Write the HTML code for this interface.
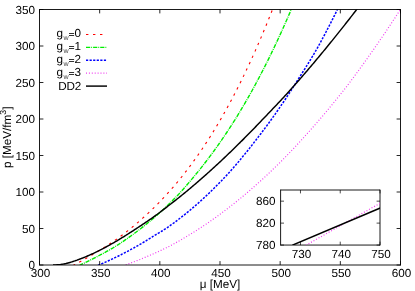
<!DOCTYPE html>
<html><head><meta charset="utf-8"><title>plot</title>
<style>
html,body{margin:0;padding:0;background:#fff;}
body{width:415px;height:291px;overflow:hidden;position:relative;}
svg{will-change:transform;}svg text{text-rendering:geometricPrecision;font-family:"Liberation Sans",sans-serif;font-size:11.7px;fill:#000;}
</style></head><body>
<svg width="415" height="291" viewBox="0 0 415 291" style="position:absolute;left:0;top:0">
<rect x="0" y="0" width="415" height="291" fill="#fff"/>
<defs><clipPath id="c"><rect x="39.5" y="9.5" width="361.0" height="255.5"/></clipPath><clipPath id="ci"><rect x="280.5" y="190" width="99.5" height="55"/></clipPath></defs>
<g clip-path="url(#c)" fill="none">
<path d="M73.00,265.58 L74.00,265.04 L75.00,264.50 L76.00,263.96 L77.00,263.41 L78.00,262.87 L79.00,262.32 L80.00,261.77 L81.00,261.22 L82.00,260.66 L83.00,260.10 L84.00,259.54 L85.00,258.97 L86.00,258.41 L87.00,257.84 L88.00,257.26 L89.00,256.68 L90.00,256.10 L91.00,255.52 L92.00,254.93 L93.00,254.34 L94.00,253.74 L95.00,253.14 L96.00,252.54 L97.00,251.94 L98.00,251.33 L99.00,250.71 L100.00,250.10 L101.00,249.48 L102.00,248.85 L103.00,248.23 L104.00,247.59 L105.00,246.96 L106.00,246.31 L107.00,245.67 L108.00,245.01 L109.00,244.36 L110.00,243.69 L111.00,243.02 L112.00,242.35 L113.00,241.66 L114.00,240.98 L115.00,240.28 L116.00,239.58 L117.00,238.87 L118.00,238.15 L119.00,237.43 L120.00,236.70 L121.00,235.96 L122.00,235.21 L123.00,234.46 L124.00,233.69 L125.00,232.93 L126.00,232.15 L127.00,231.37 L128.00,230.58 L129.00,229.78 L130.00,228.97 L131.00,228.16 L132.00,227.35 L133.00,226.52 L134.00,225.69 L135.00,224.85 L136.00,224.01 L137.00,223.16 L138.00,222.30 L139.00,221.43 L140.00,220.56 L141.00,219.69 L142.00,218.80 L143.00,217.91 L144.00,217.01 L145.00,216.10 L146.00,215.19 L147.00,214.26 L148.00,213.33 L149.00,212.39 L150.00,211.44 L151.00,210.49 L152.00,209.52 L153.00,208.55 L154.00,207.57 L155.00,206.58 L156.00,205.59 L157.00,204.58 L158.00,203.57 L159.00,202.55 L160.00,201.52 L161.00,200.49 L162.00,199.44 L163.00,198.38 L164.00,197.32 L165.00,196.25 L166.00,195.16 L167.00,194.07 L168.00,192.97 L169.00,191.85 L170.00,190.73 L171.00,189.60 L172.00,188.46 L173.00,187.31 L174.00,186.14 L175.00,184.97 L176.00,183.79 L177.00,182.60 L178.00,181.39 L179.00,180.18 L180.00,178.96 L181.00,177.72 L182.00,176.48 L183.00,175.22 L184.00,173.95 L185.00,172.67 L186.00,171.39 L187.00,170.09 L188.00,168.77 L189.00,167.45 L190.00,166.12 L191.00,164.77 L192.00,163.42 L193.00,162.05 L194.00,160.67 L195.00,159.28 L196.00,157.87 L197.00,156.46 L198.00,155.03 L199.00,153.59 L200.00,152.14 L201.00,150.68 L202.00,149.20 L203.00,147.71 L204.00,146.21 L205.00,144.70 L206.00,143.17 L207.00,141.63 L208.00,140.08 L209.00,138.52 L210.00,136.94 L211.00,135.35 L212.00,133.75 L213.00,132.13 L214.00,130.51 L215.00,128.86 L216.00,127.21 L217.00,125.54 L218.00,123.86 L219.00,122.16 L220.00,120.45 L221.00,118.73 L222.00,116.99 L223.00,115.24 L224.00,113.47 L225.00,111.69 L226.00,109.90 L227.00,108.09 L228.00,106.27 L229.00,104.44 L230.00,102.59 L231.00,100.72 L232.00,98.84 L233.00,96.95 L234.00,95.04 L235.00,93.11 L236.00,91.17 L237.00,89.22 L238.00,87.25 L239.00,85.27 L240.00,83.27 L241.00,81.25 L242.00,79.22 L243.00,77.18 L244.00,75.12 L245.00,73.04 L246.00,70.95 L247.00,68.84 L248.00,66.72 L249.00,64.58 L250.00,62.42 L251.00,60.25 L252.00,58.06 L253.00,55.86 L254.00,53.64 L255.00,51.40 L256.00,49.15 L257.00,46.88 L258.00,44.59 L259.00,42.29 L260.00,39.97 L261.00,37.63 L262.00,35.28 L263.00,32.91 L264.00,30.52 L265.00,28.12 L266.00,25.69 L267.00,23.25 L268.00,20.80 L269.00,18.32 L270.00,15.83 L271.00,13.32 L272.00,10.79 L273.00,8.25" stroke="#ff0000" stroke-width="1.1" stroke-dasharray="2.4 4.6"/>
<path d="M79.25,265.52 L80.25,265.01 L81.25,264.50 L82.25,264.03 L83.25,263.55 L84.25,263.07 L85.25,262.59 L86.25,262.11 L87.25,261.62 L88.25,261.13 L89.25,260.64 L90.25,260.14 L91.25,259.64 L92.25,259.13 L93.25,258.63 L94.25,258.12 L95.25,257.60 L96.25,257.08 L97.25,256.56 L98.25,256.03 L99.25,255.50 L100.25,254.97 L101.25,254.43 L102.25,253.90 L103.25,253.36 L104.25,252.82 L105.25,252.27 L106.25,251.73 L107.25,251.17 L108.25,250.62 L109.25,250.05 L110.25,249.48 L111.25,248.91 L112.25,248.32 L113.25,247.73 L114.25,247.13 L115.25,246.52 L116.25,245.90 L117.25,245.26 L118.25,244.62 L119.25,243.97 L120.25,243.31 L121.25,242.65 L122.25,241.98 L123.25,241.31 L124.25,240.63 L125.25,239.95 L126.25,239.26 L127.25,238.56 L128.25,237.86 L129.25,237.15 L130.25,236.44 L131.25,235.72 L132.25,234.99 L133.25,234.26 L134.25,233.52 L135.25,232.78 L136.25,232.03 L137.25,231.28 L138.25,230.52 L139.25,229.75 L140.25,228.98 L141.25,228.20 L142.25,227.42 L143.25,226.63 L144.25,225.83 L145.25,225.03 L146.25,224.22 L147.25,223.41 L148.25,222.58 L149.25,221.76 L150.25,220.93 L151.25,220.09 L152.25,219.24 L153.25,218.39 L154.25,217.53 L155.25,216.67 L156.25,215.80 L157.25,214.92 L158.25,214.04 L159.25,213.14 L160.25,212.24 L161.25,211.34 L162.25,210.42 L163.25,209.50 L164.25,208.57 L165.25,207.64 L166.25,206.69 L167.25,205.74 L168.25,204.78 L169.25,203.81 L170.25,202.84 L171.25,201.85 L172.25,200.86 L173.25,199.86 L174.25,198.85 L175.25,197.83 L176.25,196.80 L177.25,195.75 L178.25,194.69 L179.25,193.61 L180.25,192.52 L181.25,191.41 L182.25,190.30 L183.25,189.17 L184.25,188.03 L185.25,186.89 L186.25,185.73 L187.25,184.56 L188.25,183.39 L189.25,182.21 L190.25,181.03 L191.25,179.84 L192.25,178.64 L193.25,177.44 L194.25,176.24 L195.25,175.03 L196.25,173.82 L197.25,172.60 L198.25,171.37 L199.25,170.13 L200.25,168.88 L201.25,167.62 L202.25,166.35 L203.25,165.08 L204.25,163.80 L205.25,162.50 L206.25,161.21 L207.25,159.90 L208.25,158.58 L209.25,157.26 L210.25,155.93 L211.25,154.59 L212.25,153.24 L213.25,151.88 L214.25,150.51 L215.25,149.13 L216.25,147.74 L217.25,146.34 L218.25,144.93 L219.25,143.51 L220.25,142.07 L221.25,140.63 L222.25,139.18 L223.25,137.71 L224.25,136.23 L225.25,134.75 L226.25,133.25 L227.25,131.74 L228.25,130.22 L229.25,128.69 L230.25,127.14 L231.25,125.59 L232.25,124.02 L233.25,122.45 L234.25,120.86 L235.25,119.26 L236.25,117.65 L237.25,116.02 L238.25,114.39 L239.25,112.74 L240.25,111.08 L241.25,109.41 L242.25,107.73 L243.25,106.04 L244.25,104.33 L245.25,102.61 L246.25,100.88 L247.25,99.14 L248.25,97.38 L249.25,95.61 L250.25,93.83 L251.25,92.04 L252.25,90.24 L253.25,88.42 L254.25,86.59 L255.25,84.75 L256.25,82.89 L257.25,81.02 L258.25,79.14 L259.25,77.25 L260.25,75.34 L261.25,73.42 L262.25,71.49 L263.25,69.54 L264.25,67.58 L265.25,65.61 L266.25,63.62 L267.25,61.62 L268.25,59.61 L269.25,57.58 L270.25,55.54 L271.25,53.49 L272.25,51.42 L273.25,49.34 L274.25,47.24 L275.25,45.13 L276.25,43.01 L277.25,40.87 L278.25,38.72 L279.25,36.56 L280.25,34.38 L281.25,32.18 L282.25,29.98 L283.25,27.75 L284.25,25.52 L285.25,23.27 L286.25,21.00 L287.25,18.72 L288.25,16.43 L289.25,14.12 L290.25,11.79 L291.25,9.45 L292.25,7.10" stroke="#00ee00" stroke-width="1.4" stroke-dasharray="4.2 1 0.9 1"/>
<path d="M98.00,265.35 L99.00,264.93 L100.00,264.50 L101.00,264.07 L102.00,263.64 L103.00,263.20 L104.00,262.76 L105.00,262.31 L106.00,261.87 L107.00,261.42 L108.00,260.96 L109.00,260.50 L110.00,260.04 L111.00,259.57 L112.00,259.10 L113.00,258.63 L114.00,258.15 L115.00,257.67 L116.00,257.19 L117.00,256.70 L118.00,256.21 L119.00,255.71 L120.00,255.21 L121.00,254.71 L122.00,254.20 L123.00,253.69 L124.00,253.18 L125.00,252.66 L126.00,252.13 L127.00,251.61 L128.00,251.07 L129.00,250.54 L130.00,250.00 L131.00,249.45 L132.00,248.91 L133.00,248.35 L134.00,247.80 L135.00,247.23 L136.00,246.67 L137.00,246.10 L138.00,245.53 L139.00,244.95 L140.00,244.36 L141.00,243.78 L142.00,243.19 L143.00,242.59 L144.00,241.99 L145.00,241.38 L146.00,240.77 L147.00,240.16 L148.00,239.54 L149.00,238.92 L150.00,238.29 L151.00,237.66 L152.00,237.04 L153.00,236.43 L154.00,235.82 L155.00,235.22 L156.00,234.62 L157.00,234.02 L158.00,233.42 L159.00,232.82 L160.00,232.21 L161.00,231.60 L162.00,230.99 L163.00,230.36 L164.00,229.73 L165.00,229.09 L166.00,228.44 L167.00,227.78 L168.00,227.10 L169.00,226.41 L170.00,225.70 L171.00,224.98 L172.00,224.26 L173.00,223.52 L174.00,222.79 L175.00,222.04 L176.00,221.30 L177.00,220.54 L178.00,219.78 L179.00,219.02 L180.00,218.25 L181.00,217.47 L182.00,216.69 L183.00,215.90 L184.00,215.10 L185.00,214.30 L186.00,213.49 L187.00,212.68 L188.00,211.86 L189.00,211.04 L190.00,210.21 L191.00,209.37 L192.00,208.52 L193.00,207.67 L194.00,206.82 L195.00,205.96 L196.00,205.09 L197.00,204.21 L198.00,203.33 L199.00,202.44 L200.00,201.55 L201.00,200.65 L202.00,199.74 L203.00,198.83 L204.00,197.90 L205.00,196.98 L206.00,196.04 L207.00,195.10 L208.00,194.16 L209.00,193.20 L210.00,192.24 L211.00,191.28 L212.00,190.30 L213.00,189.32 L214.00,188.33 L215.00,187.34 L216.00,186.34 L217.00,185.33 L218.00,184.32 L219.00,183.30 L220.00,182.27 L221.00,181.23 L222.00,180.19 L223.00,179.14 L224.00,178.08 L225.00,177.02 L226.00,175.95 L227.00,174.87 L228.00,173.79 L229.00,172.70 L230.00,171.60 L231.00,170.49 L232.00,169.37 L233.00,168.23 L234.00,167.08 L235.00,165.92 L236.00,164.75 L237.00,163.57 L238.00,162.38 L239.00,161.18 L240.00,159.98 L241.00,158.77 L242.00,157.55 L243.00,156.33 L244.00,155.11 L245.00,153.89 L246.00,152.66 L247.00,151.42 L248.00,150.17 L249.00,148.91 L250.00,147.65 L251.00,146.38 L252.00,145.11 L253.00,143.83 L254.00,142.54 L255.00,141.25 L256.00,139.96 L257.00,138.66 L258.00,137.36 L259.00,136.06 L260.00,134.76 L261.00,133.45 L262.00,132.14 L263.00,130.81 L264.00,129.48 L265.00,128.14 L266.00,126.80 L267.00,125.44 L268.00,124.08 L269.00,122.71 L270.00,121.34 L271.00,119.95 L272.00,118.56 L273.00,117.16 L274.00,115.75 L275.00,114.33 L276.00,112.91 L277.00,111.48 L278.00,110.04 L279.00,108.59 L280.00,107.13 L281.00,105.67 L282.00,104.19 L283.00,102.71 L284.00,101.22 L285.00,99.73 L286.00,98.22 L287.00,96.71 L288.00,95.19 L289.00,93.66 L290.00,92.12 L291.00,90.57 L292.00,89.02 L293.00,87.45 L294.00,85.88 L295.00,84.30 L296.00,82.72 L297.00,81.14 L298.00,79.57 L299.00,78.00 L300.00,76.43 L301.00,74.86 L302.00,73.29 L303.00,71.71 L304.00,70.14 L305.00,68.55 L306.00,66.96 L307.00,65.36 L308.00,63.75 L309.00,62.14 L310.00,60.50 L311.00,58.86 L312.00,57.20 L313.00,55.53 L314.00,53.83 L315.00,52.12 L316.00,50.39 L317.00,48.64 L318.00,46.87 L319.00,45.07 L320.00,43.25 L321.00,41.42 L322.00,39.57 L323.00,37.70 L324.00,35.82 L325.00,33.92 L326.00,32.01 L327.00,30.09 L328.00,28.16 L329.00,26.22 L330.00,24.27 L331.00,22.32 L332.00,20.34 L333.00,18.36 L334.00,16.36 L335.00,14.35 L336.00,12.32 L337.00,10.28 L338.00,8.30" stroke="#0000ff" stroke-width="1.5" stroke-dasharray="2.2 1.37"/>
<path d="M123.00,265.79 L124.00,265.44 L125.00,265.09 L126.00,264.74 L127.00,264.39 L128.00,264.03 L129.00,263.67 L130.00,263.30 L131.00,262.93 L132.00,262.56 L133.00,262.19 L134.00,261.81 L135.00,261.43 L136.00,261.04 L137.00,260.65 L138.00,260.26 L139.00,259.86 L140.00,259.46 L141.00,259.06 L142.00,258.65 L143.00,258.24 L144.00,257.83 L145.00,257.41 L146.00,256.99 L147.00,256.56 L148.00,256.14 L149.00,255.71 L150.00,255.28 L151.00,254.85 L152.00,254.41 L153.00,253.98 L154.00,253.54 L155.00,253.09 L156.00,252.64 L157.00,252.19 L158.00,251.74 L159.00,251.28 L160.00,250.81 L161.00,250.35 L162.00,249.87 L163.00,249.40 L164.00,248.91 L165.00,248.43 L166.00,247.93 L167.00,247.43 L168.00,246.93 L169.00,246.42 L170.00,245.90 L171.00,245.38 L172.00,244.85 L173.00,244.32 L174.00,243.78 L175.00,243.23 L176.00,242.67 L177.00,242.11 L178.00,241.55 L179.00,240.98 L180.00,240.41 L181.00,239.84 L182.00,239.26 L183.00,238.68 L184.00,238.09 L185.00,237.50 L186.00,236.90 L187.00,236.30 L188.00,235.70 L189.00,235.09 L190.00,234.48 L191.00,233.87 L192.00,233.25 L193.00,232.62 L194.00,232.00 L195.00,231.37 L196.00,230.73 L197.00,230.09 L198.00,229.45 L199.00,228.80 L200.00,228.15 L201.00,227.49 L202.00,226.83 L203.00,226.17 L204.00,225.50 L205.00,224.83 L206.00,224.15 L207.00,223.47 L208.00,222.78 L209.00,222.09 L210.00,221.40 L211.00,220.70 L212.00,220.00 L213.00,219.30 L214.00,218.59 L215.00,217.87 L216.00,217.16 L217.00,216.43 L218.00,215.71 L219.00,214.98 L220.00,214.24 L221.00,213.50 L222.00,212.76 L223.00,212.01 L224.00,211.26 L225.00,210.51 L226.00,209.75 L227.00,208.99 L228.00,208.22 L229.00,207.45 L230.00,206.67 L231.00,205.89 L232.00,205.10 L233.00,204.32 L234.00,203.52 L235.00,202.73 L236.00,201.92 L237.00,201.12 L238.00,200.31 L239.00,199.50 L240.00,198.68 L241.00,197.86 L242.00,197.03 L243.00,196.20 L244.00,195.36 L245.00,194.52 L246.00,193.68 L247.00,192.83 L248.00,191.98 L249.00,191.13 L250.00,190.26 L251.00,189.40 L252.00,188.53 L253.00,187.66 L254.00,186.78 L255.00,185.90 L256.00,185.01 L257.00,184.12 L258.00,183.23 L259.00,182.33 L260.00,181.43 L261.00,180.52 L262.00,179.61 L263.00,178.69 L264.00,177.77 L265.00,176.85 L266.00,175.92 L267.00,174.99 L268.00,174.05 L269.00,173.11 L270.00,172.16 L271.00,171.21 L272.00,170.26 L273.00,169.30 L274.00,168.34 L275.00,167.37 L276.00,166.40 L277.00,165.42 L278.00,164.44 L279.00,163.46 L280.00,162.47 L281.00,161.48 L282.00,160.48 L283.00,159.48 L284.00,158.47 L285.00,157.46 L286.00,156.45 L287.00,155.42 L288.00,154.39 L289.00,153.36 L290.00,152.31 L291.00,151.26 L292.00,150.21 L293.00,149.15 L294.00,148.08 L295.00,147.01 L296.00,145.94 L297.00,144.86 L298.00,143.77 L299.00,142.68 L300.00,141.59 L301.00,140.49 L302.00,139.39 L303.00,138.28 L304.00,137.18 L305.00,136.07 L306.00,134.95 L307.00,133.84 L308.00,132.72 L309.00,131.60 L310.00,130.48 L311.00,129.36 L312.00,128.23 L313.00,127.10 L314.00,125.96 L315.00,124.82 L316.00,123.68 L317.00,122.53 L318.00,121.38 L319.00,120.22 L320.00,119.06 L321.00,117.89 L322.00,116.72 L323.00,115.55 L324.00,114.37 L325.00,113.19 L326.00,112.00 L327.00,110.81 L328.00,109.62 L329.00,108.42 L330.00,107.21 L331.00,106.00 L332.00,104.79 L333.00,103.57 L334.00,102.35 L335.00,101.12 L336.00,99.89 L337.00,98.65 L338.00,97.41 L339.00,96.16 L340.00,94.91 L341.00,93.65 L342.00,92.39 L343.00,91.13 L344.00,89.86 L345.00,88.58 L346.00,87.30 L347.00,86.01 L348.00,84.71 L349.00,83.40 L350.00,82.08 L351.00,80.76 L352.00,79.43 L353.00,78.10 L354.00,76.75 L355.00,75.40 L356.00,74.05 L357.00,72.69 L358.00,71.32 L359.00,69.94 L360.00,68.57 L361.00,67.18 L362.00,65.79 L363.00,64.40 L364.00,63.00 L365.00,61.60 L366.00,60.19 L367.00,58.78 L368.00,57.36 L369.00,55.95 L370.00,54.52 L371.00,53.10 L372.00,51.67 L373.00,50.24 L374.00,48.81 L375.00,47.38 L376.00,45.94 L377.00,44.50 L378.00,43.05 L379.00,41.60 L380.00,40.15 L381.00,38.69 L382.00,37.23 L383.00,35.76 L384.00,34.29 L385.00,32.81 L386.00,31.33 L387.00,29.84 L388.00,28.35 L389.00,26.86 L390.00,25.36 L391.00,23.86 L392.00,22.35 L393.00,20.84 L394.00,19.33 L395.00,17.81 L396.00,16.29 L397.00,14.76 L398.00,13.23 L399.00,11.69 L400.00,10.15 L401.00,8.61" stroke="#f03cf0" stroke-width="1.2" stroke-dasharray="1.0 1.9"/>
<path d="M53.00,264.90 L54.00,264.90 L55.00,264.88 L56.00,264.86 L57.00,264.83 L58.00,264.80 L59.00,264.73 L60.00,264.61 L61.00,264.46 L62.00,264.30 L63.00,264.14 L64.00,263.95 L65.00,263.75 L66.00,263.54 L67.00,263.30 L68.00,263.05 L69.00,262.78 L70.00,262.49 L71.00,262.18 L72.00,261.86 L73.00,261.52 L74.00,261.17 L75.00,260.82 L76.00,260.47 L77.00,260.16 L78.00,259.80 L79.00,259.42 L80.00,259.03 L81.00,258.65 L82.00,258.26 L83.00,257.87 L84.00,257.47 L85.00,257.06 L86.00,256.64 L87.00,256.22 L88.00,255.79 L89.00,255.35 L90.00,254.91 L91.00,254.46 L92.00,254.00 L93.00,253.54 L94.00,253.07 L95.00,252.60 L96.00,252.12 L97.00,251.63 L98.00,251.14 L99.00,250.64 L100.00,250.13 L101.00,249.62 L102.00,249.11 L103.00,248.59 L104.00,248.06 L105.00,247.53 L106.00,246.99 L107.00,246.45 L108.00,245.90 L109.00,245.35 L110.00,244.79 L111.00,244.23 L112.00,243.66 L113.00,243.09 L114.00,242.51 L115.00,241.93 L116.00,241.35 L117.00,240.76 L118.00,240.16 L119.00,239.56 L120.00,238.96 L121.00,238.35 L122.00,237.74 L123.00,237.13 L124.00,236.51 L125.00,235.89 L126.00,235.26 L127.00,234.63 L128.00,234.00 L129.00,233.36 L130.00,232.72 L131.00,232.07 L132.00,231.42 L133.00,230.77 L134.00,230.12 L135.00,229.47 L136.00,228.82 L137.00,228.16 L138.00,227.50 L139.00,226.85 L140.00,226.19 L141.00,225.53 L142.00,224.86 L143.00,224.20 L144.00,223.53 L145.00,222.86 L146.00,222.19 L147.00,221.52 L148.00,220.84 L149.00,220.16 L150.00,219.47 L151.00,218.78 L152.00,218.08 L153.00,217.38 L154.00,216.66 L155.00,215.94 L156.00,215.21 L157.00,214.47 L158.00,213.73 L159.00,212.98 L160.00,212.23 L160.75,211.66 L161.75,210.90 L162.75,210.14 L163.75,209.37 L164.75,208.61 L165.75,207.84 L166.75,207.07 L167.75,206.30 L168.75,205.53 L169.75,204.76 L170.75,203.99 L171.75,203.22 L172.75,202.44 L173.75,201.66 L174.75,200.87 L175.75,200.08 L176.75,199.29 L177.75,198.50 L178.75,197.70 L179.75,196.90 L180.75,196.09 L181.75,195.28 L182.75,194.47 L183.75,193.65 L184.75,192.84 L185.75,192.01 L186.75,191.19 L187.75,190.36 L188.75,189.52 L189.75,188.69 L190.75,187.85 L191.75,187.01 L192.75,186.16 L193.75,185.31 L194.75,184.46 L195.75,183.60 L196.75,182.74 L197.75,181.88 L198.75,181.01 L199.75,180.15 L200.75,179.27 L201.75,178.40 L202.75,177.52 L203.75,176.64 L204.75,175.75 L205.75,174.86 L206.75,173.97 L207.75,173.08 L208.75,172.18 L209.75,171.28 L210.75,170.38 L211.75,169.47 L212.75,168.56 L213.75,167.65 L214.75,166.73 L215.75,165.81 L216.75,164.89 L217.75,163.96 L218.75,163.04 L219.75,162.11 L220.75,161.17 L221.75,160.23 L222.75,159.29 L223.75,158.35 L224.75,157.40 L225.75,156.45 L226.75,155.50 L227.75,154.55 L228.75,153.59 L229.75,152.63 L230.75,151.66 L231.75,150.70 L232.75,149.73 L233.75,148.75 L234.75,147.78 L235.75,146.80 L236.75,145.82 L237.75,144.83 L238.75,143.85 L239.75,142.86 L240.75,141.86 L241.75,140.87 L242.75,139.87 L243.75,138.87 L244.75,137.86 L245.75,136.86 L246.75,135.85 L247.75,134.83 L248.75,133.82 L249.75,132.80 L250.75,131.78 L251.75,130.75 L252.75,129.72 L253.75,128.70 L254.75,127.66 L255.75,126.63 L256.75,125.59 L257.75,124.55 L258.75,123.50 L259.75,122.46 L260.75,121.41 L261.75,120.36 L262.75,119.32 L263.75,118.27 L264.75,117.23 L265.75,116.18 L266.75,115.14 L267.75,114.10 L268.75,113.05 L269.75,112.01 L270.75,110.96 L271.75,109.91 L272.75,108.87 L273.75,107.82 L274.75,106.76 L275.75,105.71 L276.75,104.65 L277.75,103.59 L278.75,102.53 L279.75,101.46 L280.75,100.40 L281.75,99.32 L282.75,98.25 L283.75,97.17 L284.75,96.08 L285.75,94.99 L286.75,93.90 L287.75,92.80 L288.75,91.69 L289.75,90.58 L290.75,89.46 L291.75,88.34 L292.75,87.22 L293.75,86.09 L294.75,84.96 L295.75,83.83 L296.75,82.69 L297.75,81.55 L298.75,80.41 L299.75,79.26 L300.75,78.11 L301.75,76.96 L302.75,75.81 L303.75,74.65 L304.75,73.49 L305.75,72.32 L306.75,71.16 L307.75,69.99 L308.75,68.82 L309.75,67.64 L310.75,66.46 L311.75,65.28 L312.75,64.10 L313.75,62.91 L314.75,61.72 L315.75,60.53 L316.75,59.33 L317.75,58.14 L318.75,56.94 L319.75,55.73 L320.75,54.53 L321.75,53.32 L322.75,52.11 L323.75,50.90 L324.75,49.68 L325.75,48.46 L326.75,47.24 L327.75,46.02 L328.75,44.79 L329.75,43.56 L330.75,42.33 L331.75,41.10 L332.75,39.87 L333.75,38.63 L334.75,37.39 L335.75,36.14 L336.75,34.90 L337.75,33.65 L338.75,32.40 L339.75,31.14 L340.75,29.89 L341.75,28.63 L342.75,27.36 L343.75,26.10 L344.75,24.83 L345.75,23.56 L346.75,22.29 L347.75,21.01 L348.75,19.73 L349.75,18.45 L350.75,17.16 L351.75,15.88 L352.75,14.59 L353.75,13.29 L354.75,12.00 L355.75,10.70 L356.75,9.39 L357.75,8.07" stroke="#000" stroke-width="1.45"/>
</g>
<path d="M39.5,9.05V265.45M400.5,9.05V265.45M39.5,9.5H400.5M39.5,265.0H400.5" fill="none" stroke="#000" stroke-width="0.9"/>
<path d="M39.50,265.0v-3.9M39.50,9.5v3.9" stroke="#000" stroke-width="0.85"/>
<text x="40.50" y="276.7" text-anchor="middle">300</text>
<path d="M99.67,265.0v-3.9M99.67,9.5v3.9" stroke="#000" stroke-width="0.85"/>
<text x="100.67" y="276.7" text-anchor="middle">350</text>
<path d="M159.83,265.0v-3.9M159.83,9.5v3.9" stroke="#000" stroke-width="0.85"/>
<text x="160.83" y="276.7" text-anchor="middle">400</text>
<path d="M220.00,265.0v-3.9M220.00,9.5v3.9" stroke="#000" stroke-width="0.85"/>
<text x="221.00" y="276.7" text-anchor="middle">450</text>
<path d="M280.17,265.0v-3.9M280.17,9.5v3.9" stroke="#000" stroke-width="0.85"/>
<text x="281.17" y="276.7" text-anchor="middle">500</text>
<path d="M340.33,265.0v-3.9M340.33,9.5v3.9" stroke="#000" stroke-width="0.85"/>
<text x="341.33" y="276.7" text-anchor="middle">550</text>
<path d="M400.50,265.0v-3.9M400.50,9.5v3.9" stroke="#000" stroke-width="0.85"/>
<text x="401.50" y="276.7" text-anchor="middle">600</text>
<path d="M39.5,265.00h3.9M400.5,265.00h-3.9" stroke="#000" stroke-width="0.85"/>
<text x="34.9" y="269.15" text-anchor="end">0</text>
<path d="M39.5,228.50h3.9M400.5,228.50h-3.9" stroke="#000" stroke-width="0.85"/>
<text x="34.9" y="232.65" text-anchor="end">50</text>
<path d="M39.5,192.00h3.9M400.5,192.00h-3.9" stroke="#000" stroke-width="0.85"/>
<text x="34.9" y="196.15" text-anchor="end">100</text>
<path d="M39.5,155.50h3.9M400.5,155.50h-3.9" stroke="#000" stroke-width="0.85"/>
<text x="34.9" y="159.65" text-anchor="end">150</text>
<path d="M39.5,119.00h3.9M400.5,119.00h-3.9" stroke="#000" stroke-width="0.85"/>
<text x="34.9" y="123.15" text-anchor="end">200</text>
<path d="M39.5,82.50h3.9M400.5,82.50h-3.9" stroke="#000" stroke-width="0.85"/>
<text x="34.9" y="86.65" text-anchor="end">250</text>
<path d="M39.5,46.00h3.9M400.5,46.00h-3.9" stroke="#000" stroke-width="0.85"/>
<text x="34.9" y="50.15" text-anchor="end">300</text>
<path d="M39.5,9.50h3.9M400.5,9.50h-3.9" stroke="#000" stroke-width="0.85"/>
<text x="34.9" y="13.65" text-anchor="end">350</text>
<path d="M86,34.5H107" fill="none" stroke="#ff0000" stroke-width="1.1" stroke-dasharray="2.4 4.6"/>
<text x="56.6" y="36.9">g</text>
<text transform="translate(66.1,40.3) scale(1.0,1)" text-anchor="middle" style="font-size:7.1px;fill:#444">w</text>
<path d="M69,33.5h5.1M69,35.5h5.1" stroke="#000" stroke-width="0.8" fill="none"/>
<text x="81" y="36.9" text-anchor="end">0</text>
<path d="M86,47.4H107" fill="none" stroke="#00ee00" stroke-width="1.4" stroke-dasharray="4.2 1 0.9 1"/>
<text x="56.6" y="49.8">g</text>
<text transform="translate(66.1,53.2) scale(1.0,1)" text-anchor="middle" style="font-size:7.1px;fill:#444">w</text>
<path d="M69,46.5h5.1M69,48.5h5.1" stroke="#000" stroke-width="0.8" fill="none"/>
<text x="81" y="49.8" text-anchor="end">1</text>
<path d="M86,60.3H107" fill="none" stroke="#0000ff" stroke-width="1.5" stroke-dasharray="2.2 1.37"/>
<text x="56.6" y="62.7">g</text>
<text transform="translate(66.1,66.1) scale(1.0,1)" text-anchor="middle" style="font-size:7.1px;fill:#444">w</text>
<path d="M69,59.5h5.1M69,61.5h5.1" stroke="#000" stroke-width="0.8" fill="none"/>
<text x="81" y="62.7" text-anchor="end">2</text>
<path d="M86,73.2H107" fill="none" stroke="#f03cf0" stroke-width="1.2" stroke-dasharray="1.0 1.9"/>
<text x="56.6" y="75.6">g</text>
<text transform="translate(66.1,79.0) scale(1.0,1)" text-anchor="middle" style="font-size:7.1px;fill:#444">w</text>
<path d="M69,72.5h5.1M69,74.5h5.1" stroke="#000" stroke-width="0.8" fill="none"/>
<text x="81" y="75.6" text-anchor="end">3</text>
<path d="M86,86.1H107" fill="none" stroke="#000" stroke-width="1.45"/>
<text x="81" y="89.8" text-anchor="end" style="letter-spacing:-0.25px">DD2</text>
<text x="220" y="288.3" text-anchor="middle">μ [MeV]</text>
<text transform="translate(11,137.3) rotate(-90)" text-anchor="middle">p [MeV/fm<tspan font-size="8.8" dy="-5">3</tspan><tspan dy="5">]</tspan></text>
<rect x="280.6" y="190.0" width="99.39999999999998" height="55.05000000000001" fill="#fff"/>
<path d="M280.6,189.55V245.5M380.0,189.55V245.5M280.6,190.0H380.0M280.6,245.05H380.0" fill="none" stroke="#000" stroke-width="0.9"/>
<g clip-path="url(#ci)" fill="none">
<path d="M306,245.2 Q343,224.2 380.5,203.0" stroke="#f03cf0" stroke-width="1.2" stroke-dasharray="1.0 1.9"/>
<path d="M292.4,245.2 L380.5,207.9" stroke="#000" stroke-width="1.45"/>
</g>
<path d="M300.48,245.05v-3.4M300.48,190.0v3.4" stroke="#000" stroke-width="0.7"/>
<text x="301.48" y="258" text-anchor="middle">730</text>
<path d="M340.24,245.05v-3.4M340.24,190.0v3.4" stroke="#000" stroke-width="0.7"/>
<text x="341.24" y="258" text-anchor="middle">740</text>
<path d="M380.00,245.05v-3.4M380.00,190.0v3.4" stroke="#000" stroke-width="0.7"/>
<text x="381.00" y="258" text-anchor="middle">750</text>
<path d="M280.6,245.05h3.4M380.0,245.05h-3.4" stroke="#000" stroke-width="0.7"/>
<text x="275.5" y="249.05" text-anchor="end">780</text>
<path d="M280.6,223.11h3.4M380.0,223.11h-3.4" stroke="#000" stroke-width="0.7"/>
<text x="275.5" y="227.11" text-anchor="end">820</text>
<path d="M280.6,201.17h3.4M380.0,201.17h-3.4" stroke="#000" stroke-width="0.7"/>
<text x="275.5" y="205.17" text-anchor="end">860</text>
</svg>
</body></html>
